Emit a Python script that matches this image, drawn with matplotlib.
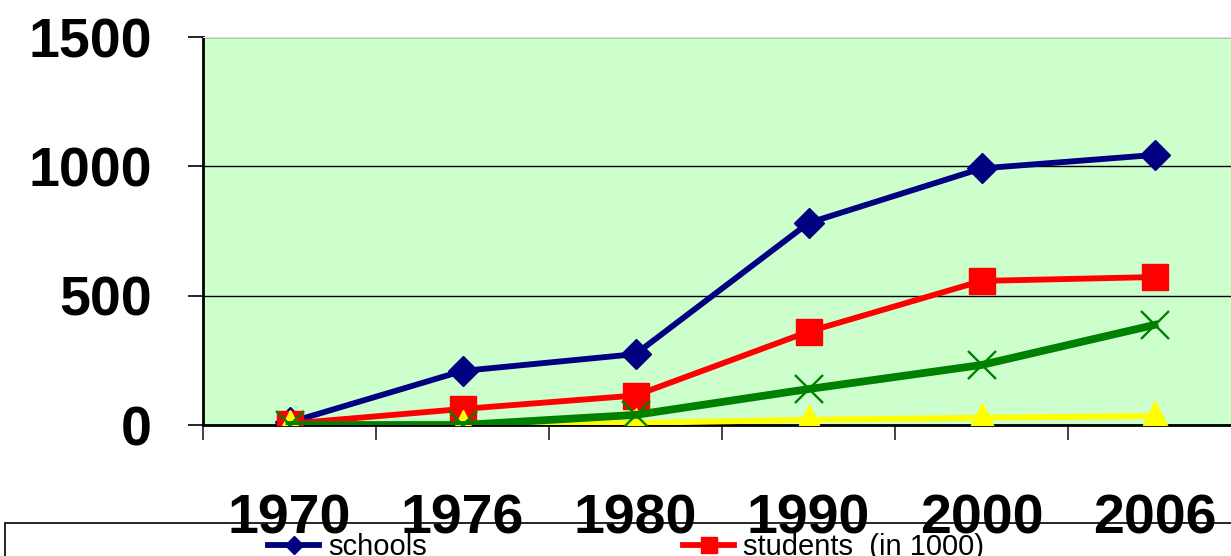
import matplotlib

matplotlib.use("Agg")
import matplotlib.pyplot as plt
from matplotlib.patches import Rectangle
import numpy as np

years = ["1970", "1976", "1980", "1990", "2000", "2006"]
schools = [10, 209, 274, 781, 992, 1044]
students = [5, 62, 114, 361, 557, 572]
series_3 = [0, 0, 39, 139, 232, 387]
series_4 = [0, 0, 8, 20, 28, 35]

y_ticks = [0, 500, 1000, 1500]

NAVY = "#000080"
RED = "#FF0000"
GREEN = "#008000"
YELLOW = "#FFFF00"
BG = "#CCFFCC"

plt.rcParams["font.family"] = ["Liberation Sans", "DejaVu Sans"]

fig = plt.figure(figsize=(12.31, 5.56), dpi=100)
W, H = 1231, 556
ax = fig.add_axes([203 / W, 1 - 425 / H, 1038 / W, 388 / H])
ax.set_facecolor(BG)

x = np.arange(len(years))
ax.plot(x, schools, color=NAVY, lw=4.2, marker="D", ms=15, mec=NAVY, zorder=3, label="schools")
ax.plot(x, students, color=RED, lw=4.2, marker="s", ms=19, mec=RED, zorder=4, label="students  (in 1000)")
ax.plot(x, series_4, color=YELLOW, lw=4.2, marker="^", ms=21, mec=YELLOW, zorder=5)
ax.plot(x, series_3, color=GREEN, lw=5.6, marker="x", ms=20, mew=1.7, mec=GREEN, zorder=6)

ax.set_xlim(-0.5, len(years) - 0.5)
ax.set_ylim(0, 1500)
ax.set_yticks(y_ticks)
ax.set_yticklabels([str(v) for v in y_ticks], fontsize=40, fontweight="bold")
ax.set_xticks(x)
ax.set_xticklabels(years, fontsize=40, fontweight="bold")
ax.set_xticks(np.arange(len(years) + 1) - 0.5, minor=True)
ax.tick_params(axis="x", which="major", length=0, pad=49)
ax.tick_params(axis="x", which="minor", length=11, width=1.2, color="#222222", direction="out")
ax.tick_params(axis="y", length=11, width=1.2, direction="out", pad=26)

ax.grid(axis="y", color="black", lw=1.0)
ax.set_axisbelow(True)
ax.spines["right"].set_visible(False)
ax.spines["top"].set_color("#DDDDDD")
ax.spines["left"].set_linewidth(2)
ax.spines["bottom"].set_linewidth(2)

# legend box, cut at the bottom of the image
fig.patches.append(Rectangle((5 / W, -0.2), 1.1, 0.2 + (1 - 523 / H), transform=fig.transFigure,
                             fill=False, edgecolor="black", lw=1.2, zorder=0))
fig.legend(loc="center left", bbox_to_anchor=(268 / W, 1 - 547 / H), ncol=2, frameon=False,
           fontsize=21, handlelength=1.75, handletextpad=0.3, columnspacing=8.8,
           borderpad=0, borderaxespad=0, markerscale=0.6)

fig.savefig("out.png", dpi=100)
